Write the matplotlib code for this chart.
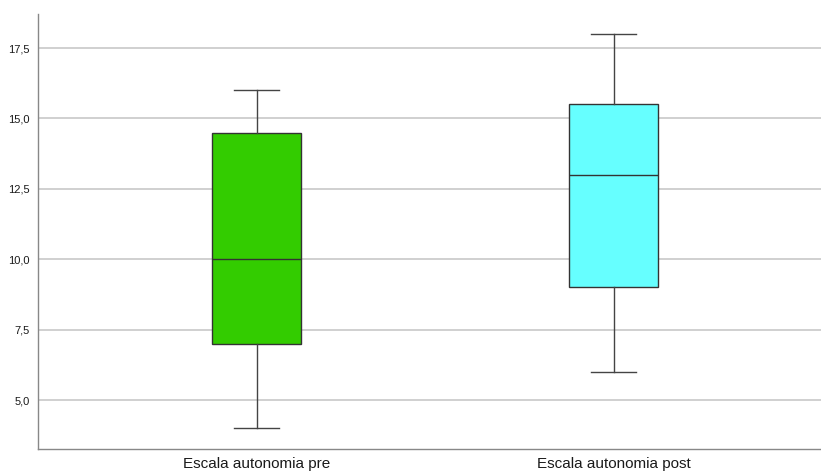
import matplotlib
matplotlib.use("Agg")
import matplotlib.pyplot as plt
from matplotlib.ticker import FuncFormatter

plt.rcParams['font.family'] = ['Liberation Sans', 'DejaVu Sans']

# Resumen de cada escala: min, Q1, mediana, Q3, max
categories = ['Escala autonomia pre', 'Escala autonomia post']
whisker_low = [4.0, 6.0]
q1 = [7.0, 9.0]
medians = [10.0, 13.0]
q3 = [14.5, 15.5]
whisker_high = [16.0, 18.0]
box_colors = ['#33cc00', '#66ffff']
y_ticks = [5.0, 7.5, 10.0, 12.5, 15.0, 17.5]

stats = []
for i, name in enumerate(categories):
    stats.append({
        'label': name,
        'whislo': whisker_low[i],
        'q1': q1[i],
        'med': medians[i],
        'q3': q3[i],
        'whishi': whisker_high[i],
        'fliers': [],
    })

fig = plt.figure(figsize=(8.21, 4.73), dpi=100)
ax = fig.add_axes([38 / 821, 24 / 473, 783 / 821, 435 / 473])

ax.set_yticks(y_ticks)
ax.yaxis.grid(True, color='#c8c8c8', linewidth=1.2, zorder=0)
ax.set_axisbelow(True)

bp = ax.bxp(stats, positions=[1, 2], widths=0.25, patch_artist=True,
            showfliers=False, capwidths=0.126,
            boxprops=dict(edgecolor='#333333', linewidth=1.0),
            medianprops=dict(color='#333333', linewidth=1.0),
            whiskerprops=dict(color='#444444', linewidth=1.0),
            capprops=dict(color='#444444', linewidth=1.0))
for patch, c in zip(bp['boxes'], box_colors):
    patch.set_facecolor(c)

ax.set_xlim(0.388, 2.581)
ax.set_ylim(3.26, 18.71)
ax.yaxis.set_major_formatter(FuncFormatter(lambda v, p: f"{v:.1f}".replace('.', ',')))

for side in ['top', 'right']:
    ax.spines[side].set_visible(False)
for side in ['left', 'bottom']:
    ax.spines[side].set_color('#888888')
    ax.spines[side].set_linewidth(1.0)

ax.tick_params(axis='y', length=0, labelsize=8, pad=6, labelcolor='#1a1a1a')
ax.tick_params(axis='x', length=0, labelsize=11, pad=6, labelcolor='#1a1a1a')

fig.savefig('out.png', dpi=100)
